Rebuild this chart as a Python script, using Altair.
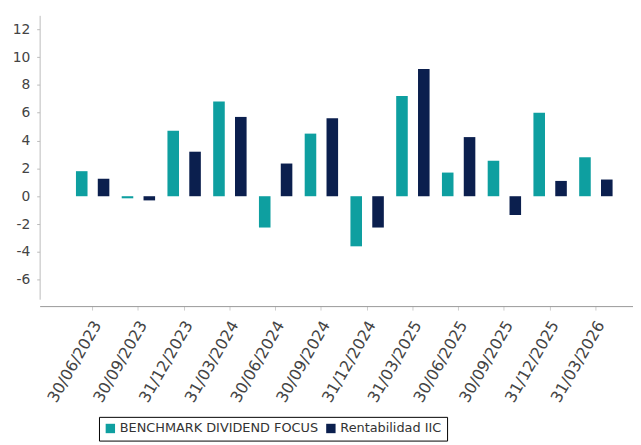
import altair as alt
import pandas as pd

dates = ["30/06/2023", "30/09/2023", "31/12/2023", "31/03/2024", "30/06/2024", "30/09/2024",
         "31/12/2024", "31/03/2025", "30/06/2025", "30/09/2025", "31/12/2025", "31/03/2026"]
benchmark = [1.8, -0.15, 4.7, 6.8, -2.25, 4.5, -3.6, 7.2, 1.7, 2.55, 6.0, 2.8]
iic = [1.25, -0.3, 3.2, 5.7, 2.35, 5.6, -2.25, 9.15, 4.25, -1.35, 1.1, 1.2]
series = ["BENCHMARK DIVIDEND FOCUS", "Rentabilidad IIC"]
colors = ["#0e9fa0", "#0b1f4e"]

rows = []
for d, b, r in zip(dates, benchmark, iic):
    rows.append({"fecha": d, "serie": series[0], "valor": b})
    rows.append({"fecha": d, "serie": series[1], "valor": r})
df = pd.DataFrame(rows)

font = "DejaVu Sans"

chart = alt.Chart(df).mark_bar().encode(
    x=alt.X("fecha:N", sort=dates, title=None,
            scale=alt.Scale(paddingInner=0.27, paddingOuter=0.62, align=0.64),
            axis=alt.Axis(labelAngle=-60, labelAlign="right", labelBaseline="middle",
                          labelFont=font, labelFontSize=16, labelColor="#444444",
                          domainColor="#999999", tickColor="#cccccc", tickSize=4,
                          labelPadding=12, labelOffset=5, offset=7, grid=False)),
    xOffset=alt.XOffset("serie:N", sort=series, scale=alt.Scale(paddingInner=0.47)),
    y=alt.Y("valor:Q", title=None,
            scale=alt.Scale(domain=[-7.4, 13], nice=False, zero=False),
            axis=alt.Axis(values=list(range(-6, 13, 2)), labelFont=font, labelFontSize=14,
                          labelExpr="'' + datum.value",
                          labelColor="#444444", domainColor="#bbbbbb", tickColor="#bbbbbb",
                          tickSize=3, labelPadding=7, grid=False)),
    color=alt.Color("serie:N", sort=series,
                    scale=alt.Scale(domain=series, range=colors),
                    legend=alt.Legend(title=None, orient="none", direction="horizontal",
                                      legendX=60, legendY=406, labelLimit=0,
                                      labelFont=font, labelFontSize=13, labelColor="#333333",
                                      symbolType="square", symbolSize=90,
                                      strokeColor="#000000", fillColor="#ffffff",
                                      padding=5, columnPadding=6, labelOffset=3)),
).properties(
    width=600, height=287,
    padding={"left": 4, "top": 5, "right": 0, "bottom": 0},
).configure_view(stroke=None)

chart.save("out.html", embed_options={"renderer": "svg", "actions": False})
